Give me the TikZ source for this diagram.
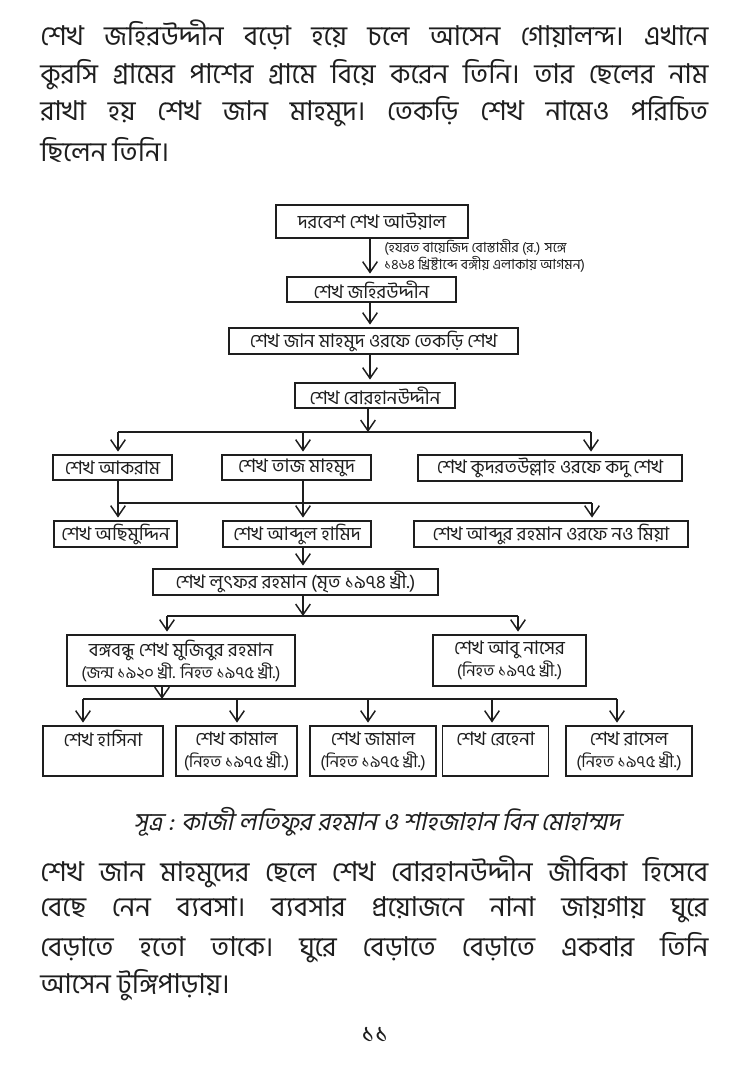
\documentclass[tikz,border=0pt]{standalone}
\usepackage{fontspec}
\newfontfamily\bn[Script=Bengali]{Hind Siliguri}
\newfontfamily\bnit[Script=Bengali,FakeSlant=0.22]{Hind Siliguri}
\usetikzlibrary{arrows.meta}
\definecolor{ink}{HTML}{1E1E1E}
\newcommand\smline{\fontsize{12.5}{16.5}\selectfont}
\begin{document}
\begin{tikzpicture}[x=0.75pt,y=-0.75pt,
  every node/.style={text=ink},
  fam/.style 2 args={draw=ink, line width=1.1pt, inner sep=0pt,
    minimum width=#1*0.75pt, minimum height=#2*0.75pt,
    font=\bn\fontsize{14}{16.5}\selectfont, align=center},
  arr/.style={draw=ink, line width=1.1pt,
    -{Straight Barb[length=8pt,width=11pt,line width=1.1pt]}},
  arrbox/.style={arr, shorten >=2pt},
  ln/.style={draw=ink, line width=1.1pt},
  para/.style={anchor=west, inner sep=0pt, font=\bn\fontsize{20.5}{24}\selectfont},
  ann/.style={anchor=west, inner sep=0pt, align=left, font=\bn\fontsize{10.5}{11.5}\selectfont},
  src/.style={inner sep=0pt, font=\bnit\fontsize{18.5}{22}\selectfont},
  pgno/.style={inner sep=0pt, font=\bn\fontsize{20}{24}\selectfont}
]
\useasboundingbox (0,0) rectangle (750,1091);
\fill[white] (0,0) rectangle (750,1091);

% ---- paragraph 1
\node[para] (p1a) at (40,35) {\hbox to 501pt{শেখ জহিরউদ্দীন বড়ো হয়ে চলে আসেন গোয়ালন্দ। এখানে}};
\node[para] (p1b) at (40,75) {\hbox to 501pt{কুরসি গ্রামের পাশের গ্রামে বিয়ে করেন তিনি। তার ছেলের নাম}};
\node[para] (p1c) at (40,112) {\hbox to 501pt{রাখা হয় শেখ জান মাহমুদ। তেকড়ি শেখ নামেও পরিচিত}};
\node[para] (p1d) at (40,150) {ছিলেন তিনি।};

% ---- tree
\node[fam={192}{33}] (b1) at (372,221.5) {দরবেশ শেখ আউয়াল};
\node[ann] (note) at (384,256) {(হযরত বায়েজিদ বোস্তামীর (র.) সঙ্গে\\১৪৬৪ খ্রিষ্টাব্দে বঙ্গীয় এলাকায় আগমন)};
\node[fam={169}{25}] (b2) at (371.5,289.5) {শেখ জহিরউদ্দীন};
\node[fam={289}{26}] (b3) at (373.5,341) {শেখ জান মাহমুদ ওরফে তেকড়ি শেখ};
\node[fam={160}{25}] (b4) at (375,395.5) {শেখ বোরহানউদ্দীন};

\node[fam={119}{25}] (r2a) at (112.5,467.5) {শেখ আকরাম};
\node[fam={149}{25}] (r2b) at (296.5,467.5) {শেখ তাজ মাহমুদ};
\node[fam={264}{26}] (r2c) at (550,468) {শেখ কুদরতউল্লাহ ওরফে কদু শেখ};

\node[fam={123}{26}] (r3a) at (115.5,534) {শেখ অছিমুদ্দিন};
\node[fam={148}{26}] (r3b) at (297,534) {শেখ আব্দুল হামিদ};
\node[fam={274}{26}] (r3c) at (551,534) {শেখ আব্দুর রহমান ওরফে নও মিয়া};

\node[fam={285}{26}] (b5) at (295.5,582) {শেখ লুৎফর রহমান (মৃত ১৯৭৪ খ্রী.)};

\node[fam={228}{51}] (b6) at (181,660.5) {বঙ্গবন্ধু শেখ মুজিবুর রহমান\\{\smline(জন্ম ১৯২০ খ্রী. নিহত ১৯৭৫ খ্রী.)}};
\node[fam={153}{51}] (b7) at (509.5,660.5) {শেখ আবু নাসের\\{\smline(নিহত ১৯৭৫ খ্রী.)}};

\node[fam={120}{50}] (c1) at (103,751) {শেখ হাসিনা\\{\smline\phantom{(নিহত ১৯৭৫ খ্রী.)}}};
\node[fam={121}{50}] (c2) at (236.5,751) {শেখ কামাল\\{\smline(নিহত ১৯৭৫ খ্রী.)}};
\node[fam={126}{50}] (c3) at (373,751) {শেখ জামাল\\{\smline(নিহত ১৯৭৫ খ্রী.)}};
\node[fam={105}{50}] (c4) at (495.5,751) {শেখ রেহেনা\\{\smline\phantom{(নিহত ১৯৭৫ খ্রী.)}}};
\node[fam={126}{50}] (c5) at (629,751) {শেখ রাসেল\\{\smline(নিহত ১৯৭৫ খ্রী.)}};

% ---- connector coordinates
\coordinate (ax) at (370,0);
\coordinate (k1) at (368,432);
\coordinate (k1a) at (118,432);
\coordinate (k1b) at (303,432);
\coordinate (k1c) at (591,432);
\coordinate (k2a) at (118,503);
\coordinate (k2b) at (303,503);
\coordinate (k2c) at (592,503);
\coordinate (k3) at (303,616);
\coordinate (k3a) at (167,616);
\coordinate (k3b) at (518,616);
\coordinate (k4) at (162,699);
\coordinate (k4a) at (83,699);
\coordinate (k4b) at (237,699);
\coordinate (k4c) at (368,699);
\coordinate (k4d) at (492,699);
\coordinate (k4e) at (617,699);

% ---- connectors
\draw[arrbox] (b1.south -| ax) -- (b2.north -| ax);
\draw[arrbox] (b2.south -| ax) -- (b3.north -| ax);
\draw[arrbox] (b3.south -| ax) -- (b4.north -| ax);

\draw[arr] (b4.south -| k1) -- (k1);
\draw[ln] (k1a) -- (k1c);
\draw[arrbox] (k1a) -- (r2a.north -| k1a);
\draw[arrbox] (k1b) -- (r2b.north -| k1b);
\draw[arrbox] (k1c) -- (r2c.north -| k1c);

\draw[ln] (r2a.south -| k2a) -- (k2a);
\draw[ln] (r2b.south -| k2b) -- (k2b);
\draw[ln] (k2a) -- (k2c);
\draw[arrbox] (k2a) -- (r3a.north -| k2a);
\draw[arrbox] (k2b) -- (r3b.north -| k2b);
\draw[arrbox] (k2c) -- (r3c.north -| k2c);

\draw[arrbox] (r3b.south -| k3) -- (b5.north -| k3);

\draw[arr] (b5.south -| k3) -- (k3);
\draw[ln] (k3a) -- (k3b);
\draw[arrbox] (k3a) -- (b6.north -| k3a);
\draw[arrbox] (k3b) -- (b7.north -| k3b);

\draw[arr] (b6.south -| k4) -- (k4);
\draw[ln] (k4a) -- (k4e);
\draw[arrbox] (k4a) -- (c1.north -| k4a);
\draw[arrbox] (k4b) -- (c2.north -| k4b);
\draw[arrbox] (k4c) -- (c3.north -| k4c);
\draw[arrbox] (k4d) -- (c4.north -| k4d);
\draw[arrbox] (k4e) -- (c5.north -| k4e);

% ---- source and paragraph 2
\node[src] (source) at (377,822) {সূত্র : কাজী লতিফুর রহমান ও শাহজাহান বিন মোহাম্মদ};

\node[para] (p2a) at (40,872) {\hbox to 501pt{শেখ জান মাহমুদের ছেলে শেখ বোরহানউদ্দীন জীবিকা হিসেবে}};
\node[para] (p2b) at (40,910) {\hbox to 501pt{বেছে নেন ব্যবসা। ব্যবসার প্রয়োজনে নানা জায়গায় ঘুরে}};
\node[para] (p2c) at (40,948) {\hbox to 501pt{বেড়াতে হতো তাকে। ঘুরে বেড়াতে বেড়াতে একবার তিনি}};
\node[para] (p2d) at (40,985) {আসেন টুঙ্গিপাড়ায়।};

\node[pgno] (page) at (375,1035) {১১};
\end{tikzpicture}
\end{document}
